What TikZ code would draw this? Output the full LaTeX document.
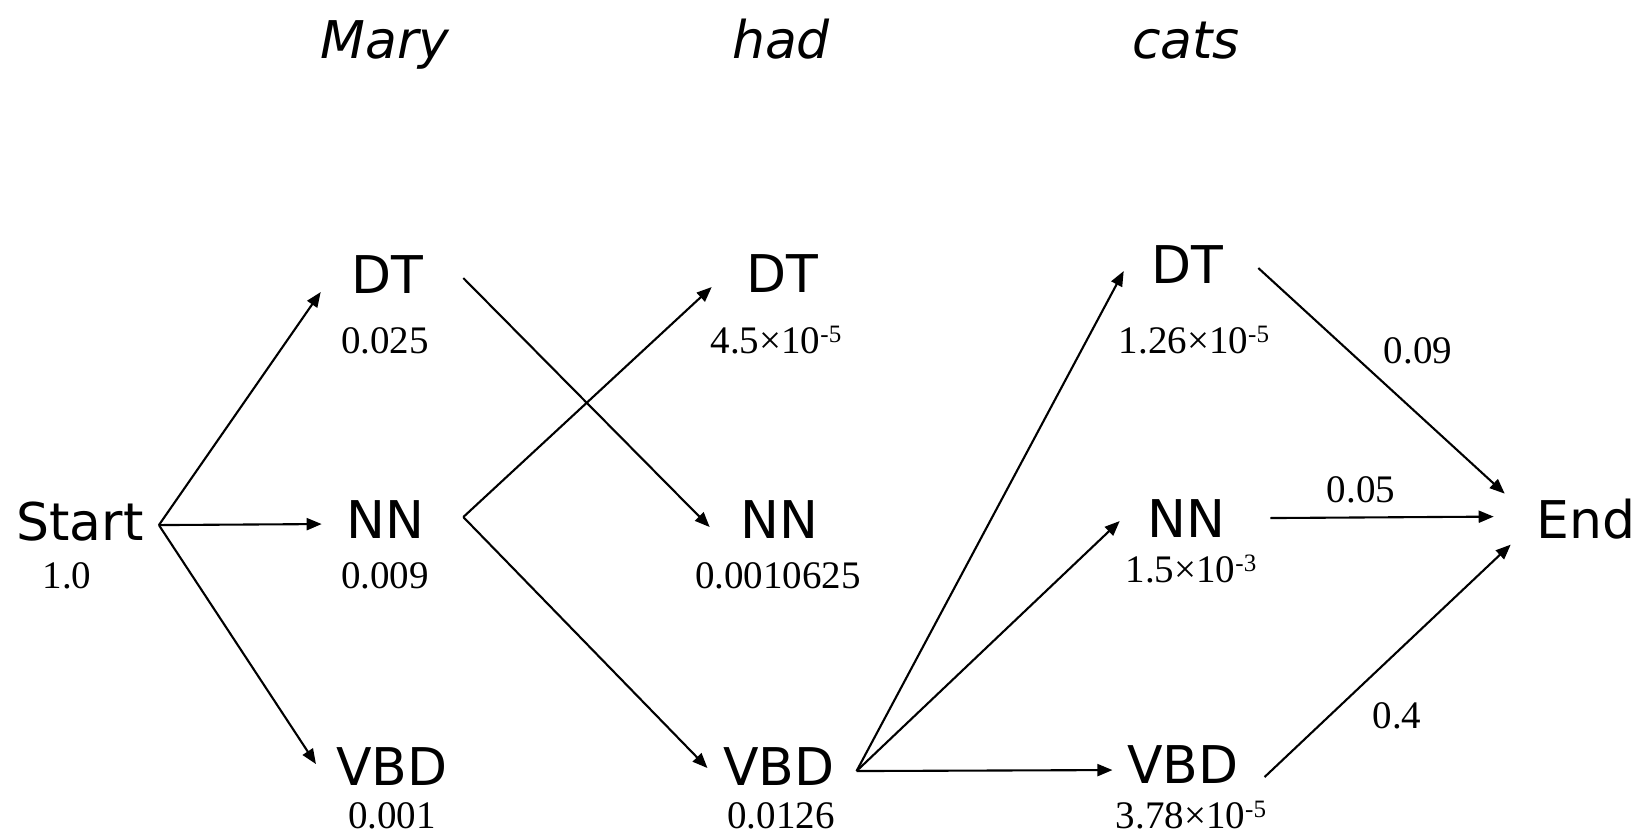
\documentclass[tikz,border=0pt]{standalone}
\usepackage{fontspec}
\setmainfont{DejaVu Sans}[ItalicFont={DejaVu Sans Oblique}]
\newfontfamily\numfont{Liberation Serif}
\usetikzlibrary{arrows.meta}
% raised small exponent after a "10"
\newcommand\expnum[1]{\raisebox{5.5pt}{\fontsize{12.5}{12.5}\selectfont #1}}

\begin{document}
\begin{tikzpicture}[x=0.5pt,y=-0.5pt,
  tag/.style={inner sep=0pt,anchor=base,font=\fontsize{26}{30}\selectfont},
  word/.style={inner sep=0pt,anchor=base,font=\fontsize{26}{30}\selectfont\itshape},
  prob/.style={inner sep=0pt,anchor=base,font=\numfont\fontsize{19.5}{22}\selectfont},
  arr/.style={line width=1.05pt,-{Triangle[length=7.5pt,width=6pt]}}]
\path[use as bounding box] (0,0) rectangle (1647,835);

% words of the sentence
\node[word] (wMary) at (385,58) {Mary};
\node[word] (wHad)  at (781,58) {had};
\node[word] (wCats) at (1186,58) {cats};

% states of the trellis
\node[tag] (start)  at (80,540)   {Start};
\node[tag] (dtA)    at (387,293)  {DT};
\node[tag] (nnA)    at (385,538)  {NN};
\node[tag] (vbdA)   at (392,785)  {VBD};
\node[tag] (dtB)    at (782,292)  {DT};
\node[tag] (nnB)    at (779,538)  {NN};
\node[tag] (vbdB)   at (779,785)  {VBD};
\node[tag] (dtC)    at (1187,283) {DT};
\node[tag] (nnC)    at (1186,537) {NN};
\node[tag] (vbdC)   at (1183,783) {VBD};
\node[tag] (finish) at (1586,538) {End};

% path probabilities
\node[prob] (pStart) at (67,588)   {1.0};
\node[prob] (pDtA)   at (385,353)  {0.025};
\node[prob] (pNnA)   at (385,588)  {0.009};
\node[prob] (pVbdA)  at (392,828)  {0.001};
\node[prob] (pDtB)   at (776,353)  {4.5×10\expnum{-5}};
\node[prob] (pNnB)   at (778,588)  {0.0010625};
\node[prob] (pVbdB)  at (781,828)  {0.0126};
\node[prob] (pDtC)   at (1194,353) {1.26×10\expnum{-5}};
\node[prob] (pNnC)   at (1191,582) {1.5×10\expnum{-3}};
\node[prob] (pVbdC)  at (1191,828) {3.78×10\expnum{-5}};

% end transition probabilities
\node[prob] (eDt)  at (1418,363) {0.09};
\node[prob] (eNn)  at (1361,502) {0.05};
\node[prob] (eVbd) at (1397,728) {0.4};

% transitions
\draw[arr] ([shift={(15,4)}]start.east) -- ([shift={(-30,18)}]dtA.west);
\draw[arr] ([shift={(15,4)}]start.east) -- ([shift={(-24,5)}]nnA.west);
\draw[arr] ([shift={(15,4)}]start.east) -- ([shift={(-20,-2)}]vbdA.west);

\draw[arr] ([shift={(40,4)}]dtA.east) -- ([shift={(-30,8)}]nnB.west);
\draw[arr] ([shift={(39,-2)}]nnA.east) -- ([shift={(-34,14)}]dtB.west);
\draw[arr] ([shift={(39,-2)}]nnA.east) -- ([shift={(-15.5,2)}]vbdB.west);

\draw[arr] ([shift={(21.5,5)}]vbdB.east) -- ([shift={(-27,7)}]dtC.west);
\draw[arr] ([shift={(21.5,5)}]vbdB.east) -- ([shift={(-27,3)}]nnC.west);
\draw[arr] ([shift={(21.5,5)}]vbdB.east) -- ([shift={(-14.5,6)}]vbdC.west);

\draw[arr] ([shift={(35,4)}]dtC.east) -- ([shift={(-31.5,-25)}]finish.west);
\draw[arr] ([shift={(45,0)}]nnC.east) -- ([shift={(-42.5,-2)}]finish.west);
\draw[arr] ([shift={(25.5,13)}]vbdC.east) -- ([shift={(-25.5,26)}]finish.west);
\end{tikzpicture}
\end{document}
